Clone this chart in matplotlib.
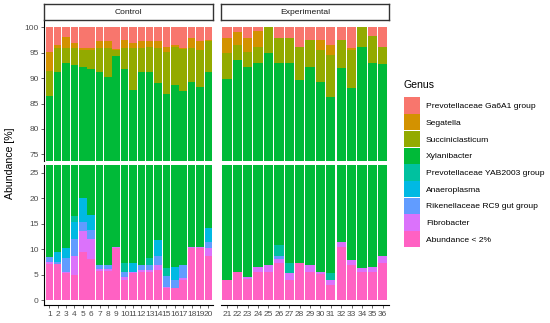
import matplotlib
matplotlib.use("Agg")
import matplotlib.pyplot as plt
from matplotlib.patches import Patch
import numpy as np

# ---------------- data ----------------
samples = [str(i) for i in range(1, 37)]
groups = ["Control"] * 20 + ["Experimental"] * 16

genera = ["Prevotellaceae Ga6A1 group", "Segatella", "Succiniclasticum",
          "Xylanibacter", "Prevotellaceae YAB2003 group", "Anaeroplasma",
          "Rikenellaceae RC9 gut group", "Fibrobacter", "Abundance < 2%"]
colors = ["#F8766D", "#D39200", "#93AA00", "#00BA38", "#00C19F",
          "#00B9E3", "#619CFF", "#DB72FB", "#FF61C3"]

ga6a1 = [4.8, 3.5, 1.9, 3.0, 4.1, 4.1, 2.7, 2.7, 4.3, 2.4, 3.0, 2.7, 2.7, 2.7, 3.8, 3.5, 4.0, 2.2, 2.7, 2.4,
         2.2, 1.0, 2.2, 0.7, 0.0, 2.2, 2.2, 3.8, 2.5, 2.5, 3.5, 2.5, 4.0, 0.0, 1.8, 3.8]
segatella = [3.7, 0.6, 2.2, 1.1, 0.4, 0.4, 1.4, 1.4, 0.2, 1.7, 1.1, 1.4, 1.1, 1.4, 1.0, 0.3, 0.3, 1.9, 1.8, 0.3,
             2.8, 2.5, 2.6, 3.1, 0.0, 0.0, 0.0, 0.0, 0.0, 2.0, 2.0, 0.0, 0.5, 0.0, 0.0, 0.0]
succiniclasticum = [5.1, 4.6, 3.0, 3.3, 3.3, 3.7, 4.6, 5.7, 1.1, 4.2, 8.2, 4.6, 4.9, 6.9, 8.4, 7.5, 8.2, 6.7, 7.2, 6.1,
                    5.2, 3.0, 3.0, 3.3, 5.1, 4.9, 4.9, 6.6, 5.3, 6.2, 8.3, 5.5, 7.5, 3.8, 5.3, 3.4]
xylanibacter = [77.9, 81.8, 82.7, 76.1, 72.2, 75.1, 84.4, 83.3, 83.9, 84.4, 80.4, 84.4, 83.1, 77.2, 80.5, 82.1, 80.6, 78.7, 77.8, 77.1,
                85.8, 87.9, 87.6, 86.3, 88.0, 82.1, 85.6, 82.3, 85.3, 83.7, 80.9, 80.5, 80.1, 89.9, 86.3, 84.2]
yab2003 = [0, 0, 0, 1.1, 0, 0, 0, 0, 0, 1.7, 0, 0, 1.3, 0, 1.6, 0, 0, 0, 0, 0,
           0, 0, 0, 0, 0, 2.2, 2.0, 0, 0, 0, 1.3, 0, 0, 0, 0, 0]
anaeroplasma = [0, 2.0, 2.0, 3.4, 4.7, 2.9, 0, 0, 0, 0, 1.7, 0, 0, 3.2, 0, 2.6, 0, 0, 0, 2.6,
                0, 0, 0, 0, 0, 0, 0, 0, 0, 0, 0, 0, 0, 0, 0, 0]
rikenellaceae = [1.0, 0.3, 2.6, 3.4, 1.8, 1.8, 0.8, 0.8, 0, 1.0, 0, 1.0, 1.0, 1.6, 2.0, 1.6, 2.6, 0, 0, 1.3,
                 0, 0, 0, 0, 0, 0.5, 0, 0, 0, 0, 0, 0, 0, 0, 0, 0]
fibrobacter = [0.3, 0.1, 0.2, 3.6, 4.0, 4.0, 0.3, 0.3, 0.3, 0.6, 0.2, 0.3, 0.3, 1.0, 0.3, 0, 0.3, 0.3, 0.3, 1.6,
               0, 0, 0.5, 1.0, 1.3, 0.8, 1.3, 0, 1.3, 0.4, 1.0, 1.0, 1.0, 0.7, 1.0, 1.3]
low_abundance = [7.2, 7.1, 5.4, 5.0, 9.5, 8.0, 5.8, 5.8, 10.2, 4.0, 5.4, 5.6, 5.6, 6.0, 2.4, 2.4, 4.0, 10.2, 10.2, 8.6,
                 4.0, 5.6, 4.1, 5.6, 5.6, 7.3, 4.0, 7.3, 5.6, 5.2, 3.0, 10.5, 6.9, 5.6, 5.6, 7.3]

series = [ga6a1, segatella, succiniclasticum, xylanibacter, yab2003,
          anaeroplasma, rikenellaceae, fibrobacter, low_abundance]

top_ticks = [75, 80, 85, 90, 95, 100]
bottom_ticks = [0, 5, 10, 15, 20, 25]

# ---------------- figure ----------------
plt.rcParams['font.family'] = ['Liberation Sans', 'DejaVu Sans']
W, H = 550, 323
fig = plt.figure(figsize=(W / 100, H / 100), dpi=100)

def fx(px):
    return px / W

def fy(py):
    return 1 - py / H

panels_x = {"Control": (44.3, 213.3), "Experimental": (220.7, 389.0)}
top_y = (21, 161)
bot_y = (165, 305)
strip_y = (4.3, 20)

tick_col = "#4D4D4D"
tick_fs = 6.0

arr = np.array(series)  # rows in legend order
stack_order = list(range(len(genera)))[::-1]  # bottom first

for g in ["Control", "Experimental"]:
    idx = [i for i, gg in enumerate(groups) if gg == g]
    xs = np.arange(len(idx))
    x0, x1 = panels_x[g]
    for row, (ya, yb) in enumerate([top_y, bot_y]):
        ax = fig.add_axes([fx(x0), fy(yb), fx(x1 - x0), (yb - ya) / H])
        base = np.zeros(len(idx))
        for k in stack_order:
            vals = arr[k, idx]
            ax.bar(xs, vals, bottom=base, width=0.9, color=colors[k],
                   linewidth=0)
            base = base + vals
        ax.set_xlim(-0.6, len(idx) - 0.4)
        if row == 0:
            ax.set_ylim(73.7, 101.24)
            ax.set_yticks(top_ticks)
        else:
            ax.set_ylim(-0.92, 26.5)
            ax.set_yticks(bottom_ticks)
        for s in ax.spines.values():
            s.set_visible(False)
        if g == "Control":
            ax.spines['left'].set_visible(True)
            ax.spines['left'].set_linewidth(0.8)
            ax.tick_params(axis='y', length=2.5, width=0.6, colors=tick_col,
                           labelsize=tick_fs, pad=1.5)
        else:
            ax.tick_params(axis='y', left=False, labelleft=False)
        if row == 1:
            ax.spines['bottom'].set_visible(True)
            ax.spines['bottom'].set_linewidth(0.8)
            ax.set_xticks(xs)
            ax.set_xticklabels([samples[i] for i in idx])
            ax.tick_params(axis='x', length=2.5, width=0.6, colors=tick_col,
                           labelsize=tick_fs, pad=1.5)
        else:
            ax.tick_params(axis='x', bottom=False, labelbottom=False)
    # strip
    sax = fig.add_axes([fx(x0), fy(strip_y[1]), fx(x1 - x0), (strip_y[1] - strip_y[0]) / H])
    sax.set_xticks([]); sax.set_yticks([])
    for s in sax.spines.values():
        s.set_linewidth(1.0)
        s.set_color("#333333")
    sax.text(0.5, 0.5, g, ha='center', va='center', fontsize=6.1,
             color="#1A1A1A", transform=sax.transAxes)

fig.text(fx(10), fy(163), "Abundance [%]", rotation=90, ha='center',
         va='center', fontsize=7.6, color='black')

handles = [Patch(facecolor=c, edgecolor='none') for c in colors]
leg = fig.legend(handles, genera, title="Genus", loc='upper left',
                 bbox_to_anchor=(fx(404), fy(80.5)), frameon=False,
                 fontsize=6.1, title_fontsize=7.6, borderpad=0,
                 borderaxespad=0, handlelength=1.89, handleheight=2.58,
                 labelspacing=0.05, handletextpad=0.7, alignment='left')
leg._legend_box.sep = 5

fig.savefig("out.png", dpi=100)
